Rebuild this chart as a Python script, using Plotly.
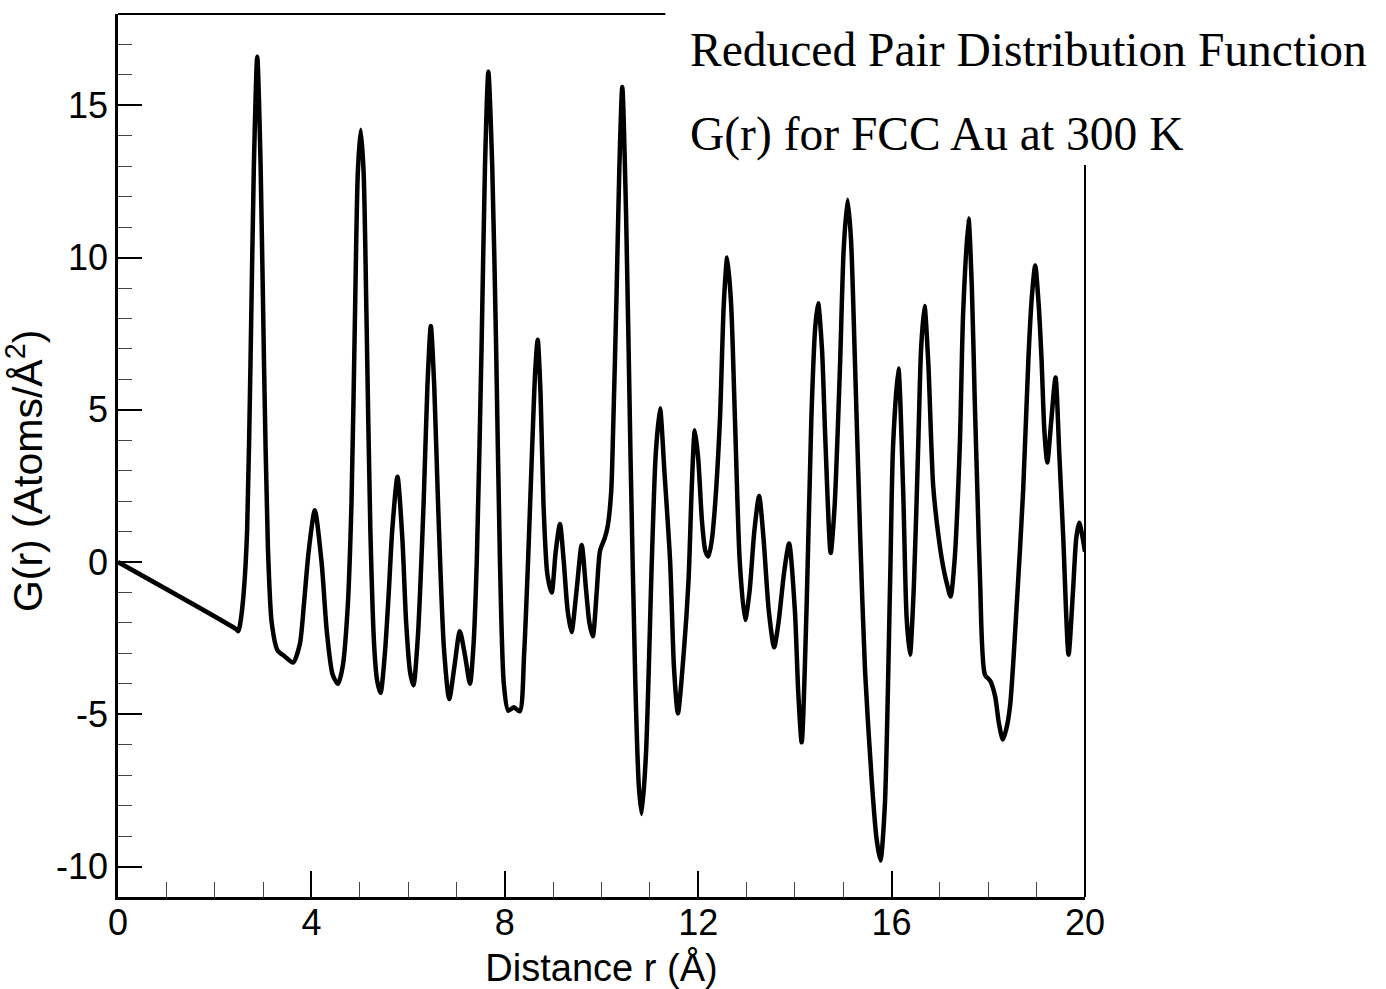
import plotly.graph_objects as go

r_vals = [0.00, 2.45, 2.49, 2.53, 2.60, 2.67, 2.74, 2.81, 2.88, 2.95, 3.02, 3.10, 3.18, 3.30, 3.45, 3.62, 3.76, 3.85, 3.94, 4.07,
          4.21, 4.32, 4.44, 4.55, 4.65, 4.75, 4.83, 4.90, 4.96, 5.02, 5.08, 5.14, 5.22, 5.30, 5.36, 5.43, 5.52, 5.60, 5.67, 5.78,
          5.88, 5.96, 6.04, 6.11, 6.20, 6.32, 6.40, 6.47, 6.54, 6.62, 6.74, 6.85, 6.96, 7.07, 7.18, 7.28, 7.35, 7.42, 7.52, 7.59,
          7.66, 7.74, 7.82, 7.90, 7.98, 8.07, 8.19, 8.31, 8.40, 8.48, 8.56, 8.63, 8.68, 8.74, 8.80, 8.88, 8.97, 9.05, 9.14, 9.22,
          9.30, 9.38, 9.48, 9.59, 9.68, 9.75, 9.82, 9.90, 9.97, 10.07, 10.13, 10.20, 10.24, 10.31, 10.37, 10.43, 10.51, 10.60, 10.70, 10.77,
          10.83, 10.92, 11.04, 11.12, 11.21, 11.30, 11.42, 11.50, 11.58, 11.70, 11.80, 11.87, 11.93, 12.00, 12.08, 12.15, 12.21, 12.28, 12.35, 12.45,
          12.53, 12.60, 12.68, 12.76, 12.86, 12.97, 13.06, 13.16, 13.26, 13.35, 13.46, 13.57, 13.66, 13.78, 13.88, 14.00, 14.07, 14.14, 14.24, 14.34,
          14.42, 14.48, 14.56, 14.63, 14.74, 14.82, 14.93, 15.01, 15.09, 15.16, 15.24, 15.35, 15.45, 15.59, 15.69, 15.77, 15.86, 15.97, 16.03, 16.14,
          16.24, 16.31, 16.38, 16.46, 16.55, 16.61, 16.68, 16.76, 16.86, 16.97, 17.07, 17.15, 17.22, 17.30, 17.41, 17.48, 17.59, 17.66, 17.72, 17.78,
          17.83, 17.93, 18.04, 18.14, 18.22, 18.30, 18.37, 18.45, 18.59, 18.72, 18.83, 18.90, 18.97, 19.04, 19.10, 19.16, 19.22, 19.30, 19.39, 19.47,
          19.55, 19.66, 19.75, 19.82, 19.88, 19.94, 20.00]

g_vals = [0.0, -2.21, -2.27, -2.0, -1.0, 1.0, 6.5, 13.0, 16.6, 13.0, 6.5, 0.5, -2.0, -2.9, -3.1, -3.3, -2.7, -1.3, 0.3, 1.7,
          0.0, -2.3, -3.7, -4.0, -3.4, -1.5, 2.0, 8.0, 12.8, 14.2, 12.8, 8.0, 1.0, -2.8, -3.9, -4.3, -3.0, -1.0, 1.0, 2.8,
          0.8, -2.0, -3.6, -4.05, -2.5, 1.9, 5.8, 7.75, 5.8, 1.9, -2.8, -4.5, -3.4, -2.27, -3.1, -4.0, -2.8, 0.0, 7.1, 13.0,
          16.1, 13.0, 7.1, 0.0, -4.0, -4.88, -4.77, -4.9, -3.0, 0.0, 3.5, 6.3, 7.3, 5.5, 1.9, -0.4, -1.0, 0.3, 1.25, 0.0,
          -1.6, -2.3, -1.0, 0.56, -0.9, -2.0, -2.44, -1.0, 0.37, 0.8, 1.2, 2.3, 4.3, 8.7, 13.0, 15.6, 11.3, 3.5, -4.0, -7.3,
          -8.27, -6.3, 0.0, 3.5, 5.05, 3.0, 0.0, -3.5, -4.97, -3.0, -0.6, 2.6, 4.33, 3.4, 1.3, 0.35, 0.18, 0.7, 1.9, 4.7,
          8.5, 10.0, 8.5, 4.7, 0.0, -1.9, -1.0, 1.0, 2.17, 0.8, -1.6, -2.8, -2.0, -0.3, 0.61, -1.6, -4.3, -5.92, -1.6, 4.7,
          7.7, 8.5, 7.0, 4.0, 0.3, 1.8, 6.3, 10.3, 11.9, 10.6, 6.7, 0.86, -3.55, -7.2, -9.1, -9.8, -8.0, -0.6, 3.8, 6.36,
          2.3, -1.8, -3.04, -0.8, 3.8, 7.0, 8.41, 6.5, 2.5, 0.85, -0.18, -0.75, -1.13, 0.0, 3.8, 8.2, 11.28, 9.0, 5.3, 2.0,
          -0.62, -3.7, -3.9, -4.4, -5.3, -5.83, -5.5, -4.73, -1.35, 2.32, 6.7, 8.7, 9.74, 8.5, 6.7, 4.3, 3.27, 4.6, 6.06, 3.5,
          0.8, -3.04, -1.0, 0.8, 1.29, 0.9, 0.34]

x_ticks = [0, 4, 8, 12, 16, 20]
y_ticks = [-10, -5, 0, 5, 10, 15]
title_lines = ["Reduced Pair Distribution Function", "G(r) for FCC Au at 300 K"]
x_title = "Distance r (Å)"
y_title = "G(r) (Atoms/Å<sup>2</sup>)"

sans = "Liberation Sans, Arial, sans-serif"
serif = "Liberation Serif, Times New Roman, serif"

fig = go.Figure()
fig.add_trace(go.Scatter(
    x=r_vals, y=g_vals, mode="lines",
    line=dict(color="black", width=4.5, shape="spline", smoothing=0.7),
    showlegend=False, hoverinfo="skip",
))

fig.update_layout(
    width=1386, height=989,
    margin=dict(l=118, r=301, t=14, b=92, autoexpand=False),
    paper_bgcolor="white", plot_bgcolor="white",
    font=dict(family=sans, size=36, color="black"),
    xaxis=dict(
        range=[0, 20], tickvals=x_ticks, ticktext=[str(v) for v in x_ticks],
        ticks="inside", ticklen=26, tickwidth=2, tickcolor="black",
        showline=True, linewidth=2.5, linecolor="black",
        showgrid=False, zeroline=False,
        minor=dict(dtick=1, tick0=0, ticks="inside", ticklen=15, tickwidth=1, tickcolor="#444", showgrid=False),
        tickfont=dict(family=sans, size=36, color="black"),
        ticklabelstandoff=-8,
        title=dict(text=x_title, font=dict(family=sans, size=38, color="black"), standoff=15),
        automargin=False,
    ),
    yaxis=dict(
        range=[-11, 18], tickvals=y_ticks, ticktext=[str(v) for v in y_ticks],
        ticks="inside", ticklen=24, tickwidth=2, tickcolor="black",
        showline=True, linewidth=2.5, linecolor="black",
        showgrid=False, zeroline=False,
        minor=dict(dtick=1, tick0=0, ticks="inside", ticklen=14, tickwidth=1, tickcolor="#444", showgrid=False),
        tickfont=dict(family=sans, size=36, color="black"),
        ticklabelstandoff=0,
        automargin=False,
    ),
    shapes=[
        dict(type="line", xref="paper", yref="paper", x0=0, x1=0.566, y0=1, y1=1,
             line=dict(color="black", width=2), layer="above"),
        dict(type="line", xref="paper", yref="paper", x0=1, x1=1, y0=0, y1=0.829,
             line=dict(color="black", width=2), layer="above"),
    ],
    annotations=[
        dict(text=title_lines[0], xref="paper", yref="paper", x=0.589, y=0.959,
             xanchor="left", yanchor="middle", showarrow=False,
             font=dict(family=serif, size=47.5, color="black")),
        dict(text=title_lines[1], xref="paper", yref="paper", x=0.589, y=0.863,
             xanchor="left", yanchor="middle", showarrow=False,
             font=dict(family=serif, size=47.5, color="black")),
        dict(text=y_title, xref="paper", yref="paper", x=-0.096, y=0.4825,
             xanchor="center", yanchor="middle", textangle=-90, showarrow=False,
             font=dict(family=sans, size=41, color="black")),
    ],
)

fig.write_html("out.html")
